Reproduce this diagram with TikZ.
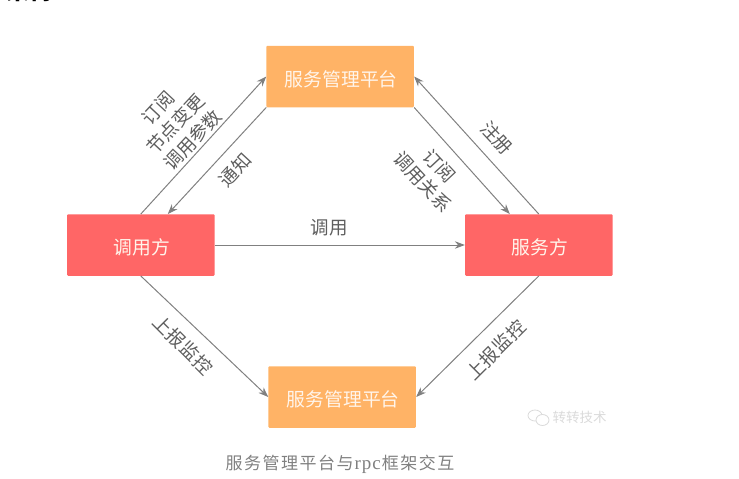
\documentclass[tikz,border=0pt]{standalone}
\usepackage{fontspec}
\setmainfont{Noto Sans CJK SC}
\newfontfamily\latinserif{Liberation Serif}
\usetikzlibrary{arrows.meta,calc}
\definecolor{boxorange}{HTML}{FFB366}
\definecolor{boxred}{HTML}{FF6666}
\definecolor{linkgrey}{HTML}{808080}
\definecolor{labelgrey}{HTML}{5E5E5E}
\definecolor{captiongrey}{HTML}{808080}
\definecolor{markgrey}{HTML}{DADADA}
\newcommand{\platetext}[1]{\kern2pt\raisebox{-9.5pt}[0pt][0pt]{#1}}
\tikzset{
  x=1pt,y=-1pt,
  platebox/.style={rounded corners=1pt,minimum width=147.5pt,minimum height=61.5pt,inner sep=0pt,
    text=white!92!orange,font=\fontsize{18.8}{20}\selectfont},
  platform/.style={platebox,fill=boxorange},
  party/.style={platebox,fill=boxred},
  link/.style={draw=linkgrey,line width=1pt,-{Stealth[length=10pt,width=7.5pt]}},
  edgetext/.style={text=labelgrey,align=center,inner sep=0pt,font=\fontsize{18.5}{23.5}\selectfont},
}
\begin{document}
\begin{tikzpicture}
\useasboundingbox (0,0) rectangle (739,479);
\clip (0,0) rectangle (739,479);
\node[anchor=center,font=\bfseries\fontsize{23}{24}\selectfont,text=black] (heading) at (29,-9) {架构};

\node[platform] (top) at (340.2,76.5) {\platetext{服务管理平台}};
\node[party] (caller) at (140.8,245) {\platetext{调用方}};
\node[party] (service) at (538.8,245) {\platetext{服务方}};
\node[platform] (bottom) at (342.2,397) {\platetext{服务管理平台}};

\coordinate (notifyend) at ($(caller.north)+(27,0)$);
\coordinate (subscribeend) at ($(service.north)+(-29,0)$);

\draw[link] (caller.north) -- (top.west);
\draw[link] (top.south west) -- (notifyend);
\draw[link] (service.north) -- (top.east);
\draw[link] (top.south east) -- (subscribeend);
\draw[link] (caller.east) -- (service.west);
\draw[link] (caller.south) -- (bottom.west);
\draw[link] (service.south) -- (bottom.east);

\node[edgetext,rotate=47] (lblparams) at (175.5,124) {订阅\\节点变更\\调用参数};
\node[edgetext,rotate=47] (lblnotify) at (235,170) {通知};
\node[edgetext] (lblcall) at (329,228) {调用};
\node[edgetext,rotate=-47] (lblregister) at (497,138) {注册};
\node[edgetext,rotate=-47] (lblrelation) at (431,174) {订阅\\调用关系};
\node[edgetext,rotate=-45] (lblreportl) at (183,345) {上报监控};
\node[edgetext,rotate=45] (lblreportr) at (496,350) {上报监控};

\node[text=captiongrey,inner sep=0pt,font=\fontsize{17}{20}\selectfont] (caption) at (340,464)
  {服\kern1.5pt 务\kern1.5pt 管\kern1.5pt 理\kern1.5pt 平\kern1.5pt 台\kern1.5pt 与{\latinserif\fontsize{19}{20}\selectfont\kern1pt r\kern1pt p\kern1pt c\kern1pt}框\kern1.5pt 架\kern1.5pt 交\kern1.5pt 互};

% small chat-bubble logo beside the account name
\draw[markgrey,line width=0.8pt] (535,415.5) ellipse (7 and 5.5);
\draw[markgrey,line width=0.8pt,fill=white] (542.5,420) ellipse (6.5 and 5.5);
\node[text=markgrey,inner sep=0pt,font=\fontsize{13.5}{15}\selectfont] (account) at (579.5,417) {转转技术};
\end{tikzpicture}
\end{document}
